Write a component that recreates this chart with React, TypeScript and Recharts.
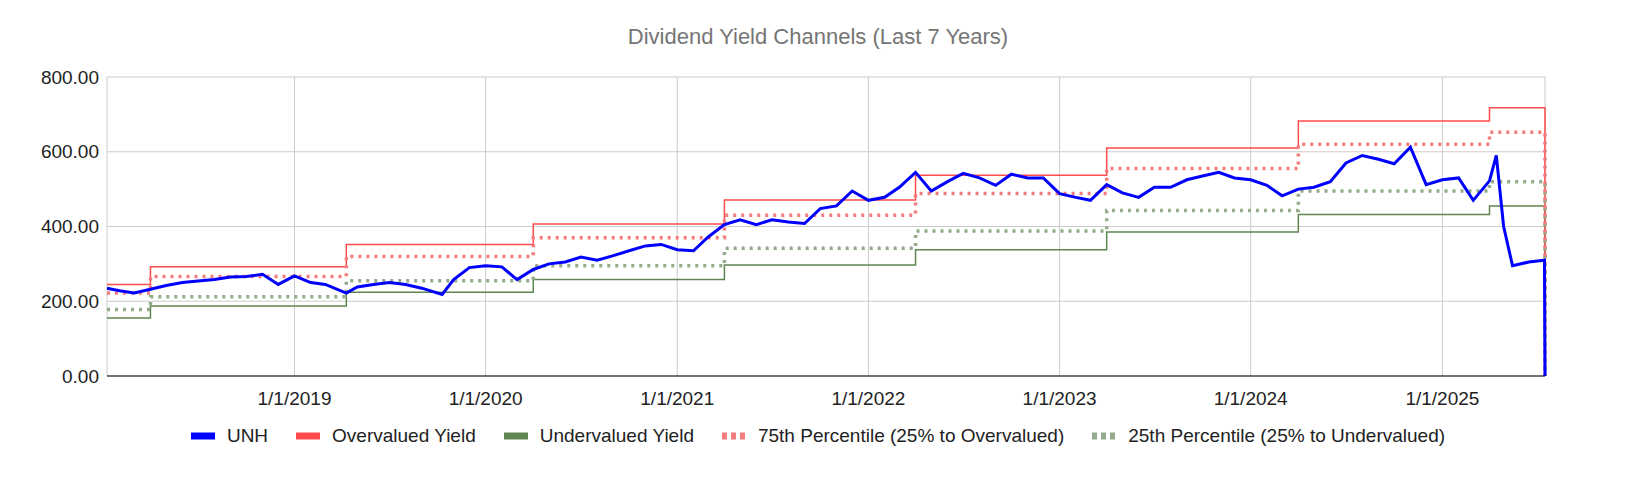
import React from "react";
import { CartesianGrid, Line, LineChart, XAxis, YAxis } from "recharts";

// UNH price samples (date, value)
const unhDates = [
  "2018-01-08","2018-02-01","2018-03-01","2018-04-01","2018-05-01","2018-06-01","2018-07-01","2018-08-01","2018-09-01","2018-10-01","2018-11-01","2018-12-01",
  "2019-01-01","2019-02-01","2019-03-01","2019-04-10","2019-05-01","2019-06-01","2019-07-01","2019-08-01","2019-09-01","2019-10-10","2019-11-01","2019-12-01",
  "2020-01-01","2020-02-01","2020-03-01","2020-04-01","2020-05-01","2020-06-01","2020-07-01","2020-08-01","2020-09-01","2020-10-01","2020-11-01","2020-12-01",
  "2021-01-01","2021-02-01","2021-03-01","2021-04-01","2021-05-01","2021-06-01","2021-07-01","2021-08-01","2021-09-01","2021-10-01","2021-11-01","2021-12-01",
  "2022-01-01","2022-02-01","2022-03-01","2022-04-01","2022-05-01","2022-06-01","2022-07-01","2022-08-01","2022-09-01","2022-10-01","2022-11-01","2022-12-01",
  "2023-01-01","2023-02-01","2023-03-01","2023-04-01","2023-05-01","2023-06-01","2023-07-01","2023-08-01","2023-09-01","2023-10-01","2023-11-01","2023-12-01",
  "2024-01-01","2024-02-01","2024-03-01","2024-04-01","2024-05-01","2024-06-01","2024-07-01","2024-08-01","2024-09-01","2024-10-01","2024-11-01","2024-12-01",
  "2025-01-01","2025-02-01","2025-03-01","2025-04-01","2025-04-14","2025-04-28","2025-05-15","2025-06-15","2025-07-15",
];
const unhValues = [
  235, 228, 222, 232, 242, 250, 254, 258, 265, 266, 272, 245,
  268, 250, 245, 222, 238, 245, 250, 245, 235, 218, 258, 290,
  295, 292, 258, 285, 300, 305, 318, 310, 322, 335, 348, 352,
  338, 335, 372, 405, 418, 405, 418, 412, 408, 448, 455, 495,
  470, 478, 505, 545, 495, 520, 542, 530, 510, 540, 530, 530,
  488, 478, 470, 512, 490, 478, 505, 505, 525, 535, 545, 530,
  525, 510, 482, 500, 505, 520, 570, 590, 580, 568, 612, 512,
  525, 530, 470, 522, 590, 400, 295, 305, 310,
];

// channel step levels, effective from each date
const stepDates = ["2018-01-01","2018-03-15","2019-04-01","2020-04-01","2021-03-20","2022-03-20","2023-03-20","2024-03-20","2025-03-25"];
const overvalued = [245, 292, 352, 407, 471, 537, 610, 682, 718];
const undervalued = [155, 187, 224, 258, 297, 338, 385, 432, 455];
const pct75 = [222, 266, 320, 370, 430, 488, 555, 620, 652];
const pct25 = [178, 212, 255, 295, 342, 388, 443, 495, 520];

const yearTicks = [2019, 2020, 2021, 2022, 2023, 2024, 2025];
const yTicks = [0, 200, 400, 600, 800];

const ts = (s: string) => Date.parse(s + "T00:00:00Z");
const stepTs = stepDates.map(ts);
const levelAt = (arr: number[], t: number) => {
  let i = 0;
  for (let k = 0; k < stepTs.length; k++) if (t >= stepTs[k]) i = k;
  return arr[i];
};

const data = unhDates.map((d, i) => {
  const t = ts(d);
  return {
    t,
    unh: unhValues[i],
    over: levelAt(overvalued, t),
    under: levelAt(undervalued, t),
    p75: levelAt(pct75, t),
    p25: levelAt(pct25, t),
  };
});
const lastT = data[data.length - 1].t;
data.push({ t: lastT + 86400000, unh: 0, over: 0, under: 0, p75: 0, p25: 0 });

const legendItems = [
  { label: "UNH", color: "#0000ff", dotted: false },
  { label: "Overvalued Yield", color: "#ff4b4b", dotted: false },
  { label: "Undervalued Yield", color: "#5f8650", dotted: false },
  { label: "75th Percentile (25% to Overvalued)", color: "#f47c7c", dotted: true },
  { label: "25th Percentile (25% to Undervalued)", color: "#93ab8b", dotted: true },
];

const fmtYear = (t: number) => `1/1/${new Date(t).getUTCFullYear()}`;

export default function App() {
  const font = "Liberation Sans, Arial, sans-serif";
  return (
    <div style={{ position: "absolute", left: 0, top: 0, width: 1636, height: 494, background: "#fff", fontFamily: font }}>
      <div style={{ position: "absolute", top: 24, width: 1636, textAlign: "center", fontSize: 22, color: "#757575" }}>
        Dividend Yield Channels (Last 7 Years)
      </div>
      <LineChart width={1636} height={494} data={data} margin={{ top: 77, right: 91, left: 7, bottom: 78 }}>
        <CartesianGrid stroke="#cccccc" />
        <XAxis
          dataKey="t"
          type="number"
          scale="time"
          domain={[ts("2018-01-08"), lastT + 86400000]}
          ticks={yearTicks.map((y) => Date.UTC(y, 0, 1))}
          tickFormatter={fmtYear}
          tick={{ fill: "#222", fontSize: 19, fontFamily: font }}
          tickLine={false}
          axisLine={{ stroke: "#000" }}
          height={40}
          tickMargin={10}
        />
        <YAxis
          domain={[0, 800]}
          ticks={yTicks}
          tickFormatter={(v: number) => v.toFixed(2)}
          tick={{ fill: "#222", fontSize: 19, fontFamily: font }}
          tickLine={false}
          axisLine={false}
          width={100}
        />
        <Line dataKey="under" type="stepAfter" stroke="#5f8650" strokeWidth={1.5} dot={false} isAnimationActive={false} />
        <Line dataKey="over" type="stepAfter" stroke="#ff4b4b" strokeWidth={1.5} dot={false} isAnimationActive={false} />
        <Line dataKey="p25" type="stepAfter" stroke="#93ab8b" strokeWidth={3.5} strokeDasharray="3 5" dot={false} isAnimationActive={false} />
        <Line dataKey="p75" type="stepAfter" stroke="#f47c7c" strokeWidth={3.5} strokeDasharray="3 5" dot={false} isAnimationActive={false} />
        <Line dataKey="unh" type="linear" stroke="#0000ff" strokeWidth={3} dot={false} isAnimationActive={false} />
      </LineChart>
      <div style={{ position: "absolute", top: 425, left: 0, width: 1636, display: "flex", justifyContent: "center", gap: 28, fontSize: 19, color: "#222" }}>
        {legendItems.map((it) => (
          <div key={it.label} style={{ display: "flex", alignItems: "center", gap: 12 }}>
            <svg width={24} height={8}>
              <line x1={0} y1={4} x2={24} y2={4} stroke={it.color} strokeWidth={7} strokeDasharray={it.dotted ? "5 4" : undefined} />
            </svg>
            <span>{it.label}</span>
          </div>
        ))}
      </div>
    </div>
  );
}
